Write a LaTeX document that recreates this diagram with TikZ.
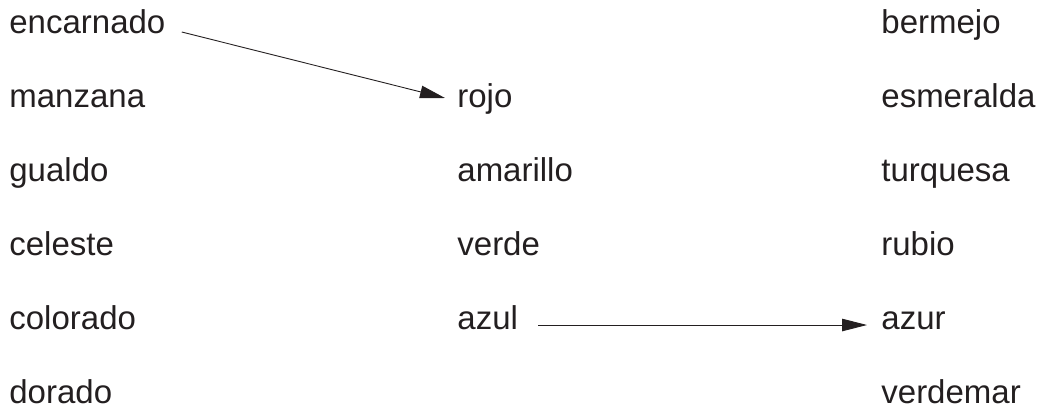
\documentclass[tikz,border=0pt]{standalone}
\usepackage{fontspec}
\setmainfont{Liberation Sans}
\usepackage{xcolor}
\usetikzlibrary{arrows.meta, positioning}
\definecolor{ink}{HTML}{231F20}

\begin{document}
\begin{tikzpicture}[x=1pt, y=-1pt, thick,
  word/.style={anchor=base west, inner sep=0pt, text=ink, font=\fontsize{33}{40}\selectfont},
  arr/.style={draw=ink, line width=0.9pt, -{Triangle[length=25pt, width=12.5pt]}}]
\useasboundingbox (0,0) rectangle (1041,410);
\foreach \w [count=\i] in {encarnado,manzana,gualdo,celeste,colorado,dorado}{
	\node[word] (l\i) at (9, {33+74*(\i-1)}) {\w};
}
\foreach \w [count=\i from 2] in {rojo,amarillo,verde,azul}{
	\node[word] (m\i) at (457, {33+74*(\i-1)}) {\w};
}
\foreach \w [count=\i] in {bermejo,esmeralda,turquesa,rubio,azur,verdemar}{
	\node[word] (r\i) at (881, {33+74*(\i-1)}) {\w};
}
\draw[arr] ([xshift=16pt, yshift=1pt]l1.base east) -- ([xshift=-12pt, yshift=9pt]m2.base west);
\draw[arr] ([xshift=20pt, yshift=4pt]m5.base east) -- ([xshift=-14pt, yshift=4pt]r5.base west);
\end{tikzpicture}
\end{document}
